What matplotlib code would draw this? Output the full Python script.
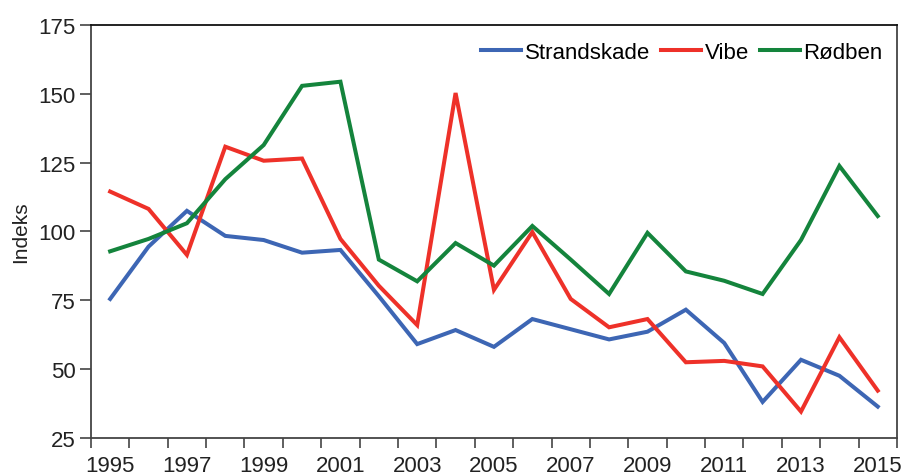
import numpy as np
import matplotlib.pyplot as plt
from matplotlib.ticker import FixedLocator

plt.rcParams['font.family'] = ['Liberation Sans', 'DejaVu Sans']

years = list(range(1995, 2016))
strandskade = [75.5, 94.5, 107.5, 98.4, 96.9, 92.3, 93.3, 76.5, 59.1, 64.2, 58.1,
               68.2, 64.5, 60.8, 63.6, 71.6, 59.5, 38.1, 53.4, 47.6, 36.4]
vibe = [114.5, 108.2, 91.5, 130.8, 125.7, 126.5, 97.3, 80.3, 66.0, 150.3, 78.8,
        99.8, 75.5, 65.2, 68.2, 52.5, 53.0, 51.0, 34.6, 61.6, 42.2]
rodben = [92.8, 97.3, 103.0, 119.0, 131.4, 152.9, 154.4, 89.8, 81.9, 95.8, 87.6,
          102.0, 89.8, 77.3, 99.5, 85.5, 82.1, 77.3, 96.9, 123.8, 105.6]

series = [("Strandskade", strandskade, "#3d66b4"),
          ("Vibe", vibe, "#ee3129"),
          ("Rødben", rodben, "#14843c")]

fig = plt.figure(figsize=(9.06, 4.77), dpi=100)
ax = fig.add_axes([0.1004, 0.0797, 0.8896, 0.8658])

for name, vals, col in series:
    ax.plot(years, vals, color=col, lw=2.9, label=name, solid_joinstyle='miter')

ax.set_xlim(1994.5, 2015.5)
ax.set_ylim(25, 175)
ax.set_yticks(np.arange(25, 176, 25))
ax.set_xticks(years[::2])
ax.xaxis.set_minor_locator(FixedLocator(np.arange(1994.5, 2016, 1)))
ax.tick_params(axis='x', which='major', length=0, pad=12, labelsize=16, labelcolor='#222222')
ax.tick_params(axis='x', which='minor', length=7, width=1.2, direction='out', color='#444444')
ax.tick_params(axis='y', which='major', length=8, width=1.2, pad=3, labelsize=16,
               color='#444444', labelcolor='#222222')

for s in ax.spines.values():
    s.set_linewidth(1.3)
    s.set_color('#444444')
ax.spines['top'].set_color('#111111')

ax.set_ylabel("Indeks", fontsize=15, color='#222222', labelpad=6)

leg = ax.legend(loc='upper right', bbox_to_anchor=(0.993, 0.981), ncol=3,
                frameon=False, fontsize=16, handlelength=1.8, handletextpad=0.15,
                columnspacing=0.5, borderaxespad=0)

fig.savefig("out.png", dpi=100)
